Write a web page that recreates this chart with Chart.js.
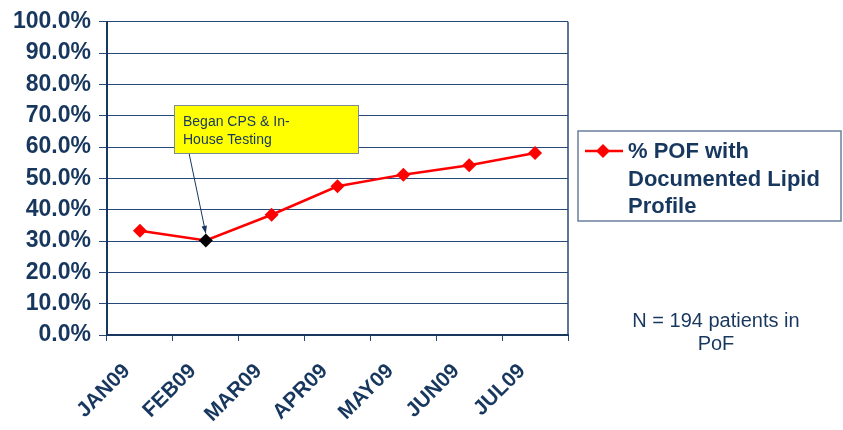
<!DOCTYPE html>
<html>
<head>
<meta charset="utf-8">
<script src="https://cdn.jsdelivr.net/npm/chart.js@4/dist/chart.umd.min.js"></script>
<style>
  html, body { margin: 0; padding: 0; background: #fff; }
  #wrap { width: 843px; height: 430px; position: relative; }
</style>
</head>
<body>
<div id="wrap"><canvas id="lipid-chart"></canvas></div>
<script>
const months = ['JAN09', 'FEB09', 'MAR09', 'APR09', 'MAY09', 'JUN09', 'JUL09'];
const pctDocumented = [33.3, 30.2, 38.4, 47.5, 51.2, 54.2, 58.1];
const seriesName = ['% POF with', 'Documented Lipid', 'Profile'];
const noteLines = ['N = 194 patients in', 'PoF'];
const calloutLines = ['Began CPS & In-', 'House Testing'];
const calloutMonth = 'FEB09';

const navy = '#17375E';
const gridNavy = '#27497A';
const font = '"Liberation Sans", Arial, sans-serif';

function drawDiamond(ctx, x, y, r, color) {
    ctx.beginPath();
    ctx.moveTo(x, y - r);
    ctx.lineTo(x + r, y);
    ctx.lineTo(x, y + r);
    ctx.lineTo(x - r, y);
    ctx.closePath();
    ctx.fillStyle = color;
    ctx.fill();
}

const extras = {
    id: 'extras',
    afterDraw(chart) {
        const ctx = chart.ctx;
        const area = chart.chartArea;
        const xs = chart.scales.x;
        const ys = chart.scales.y;
        ctx.save();

        // right border of plot
        ctx.strokeStyle = gridNavy;
        ctx.lineWidth = 1.5;
        ctx.beginPath();
        ctx.moveTo(area.right, area.top);
        ctx.lineTo(area.right, area.bottom);
        ctx.stroke();

        // callout box + arrow
        const idx = months.indexOf(calloutMonth);
        const px = xs.getPixelForValue(idx);
        const py = ys.getPixelForValue(pctDocumented[idx]) - 7;
        const bx = 174, by = 105, bw = 184, bh = 48;
        const sx = 189, sy = by + bh;
        ctx.strokeStyle = navy;
        ctx.lineWidth = 1;
        ctx.beginPath();
        ctx.moveTo(sx, sy);
        ctx.lineTo(px, py);
        ctx.stroke();
        const ang = Math.atan2(py - sy, px - sx);
        ctx.beginPath();
        ctx.moveTo(px, py);
        ctx.lineTo(px - 8 * Math.cos(ang - 0.35), py - 8 * Math.sin(ang - 0.35));
        ctx.lineTo(px - 8 * Math.cos(ang + 0.35), py - 8 * Math.sin(ang + 0.35));
        ctx.closePath();
        ctx.fillStyle = navy;
        ctx.fill();

        ctx.fillStyle = '#FFFF00';
        ctx.fillRect(bx, by, bw, bh);
        ctx.strokeStyle = '#7F8A99';
        ctx.lineWidth = 1;
        ctx.strokeRect(bx + 0.5, by + 0.5, bw, bh);
        ctx.fillStyle = navy;
        ctx.font = '14px ' + font;
        ctx.textBaseline = 'alphabetic';
        ctx.textAlign = 'left';
        calloutLines.forEach((t, i) => ctx.fillText(t, 183, 126 + i * 18));

        // legend
        ctx.strokeStyle = '#6A7F9C';
        ctx.lineWidth = 1.5;
        ctx.strokeRect(578, 131, 263, 90);
        ctx.strokeStyle = '#FF0000';
        ctx.lineWidth = 2.5;
        ctx.beginPath();
        ctx.moveTo(585, 151);
        ctx.lineTo(623, 151);
        ctx.stroke();
        drawDiamond(ctx, 603, 151, 7, '#FF0000');
        ctx.fillStyle = navy;
        ctx.font = 'bold 22px ' + font;
        seriesName.forEach((t, i) => ctx.fillText(t, 628, 158 + i * 27.5));

        // note
        ctx.font = '20px ' + font;
        ctx.textAlign = 'center';
        noteLines.forEach((t, i) => ctx.fillText(t, 716, 327 + i * 23));
        ctx.restore();
    }
};

new Chart(document.getElementById('lipid-chart'), {
    type: 'line',
    data: {
        labels: months,
        datasets: [{
            label: seriesName.join(' '),
            data: pctDocumented,
            borderColor: '#FF0000',
            borderWidth: 2.5,
            pointStyle: 'rectRot',
            pointRadius: 7,
            pointBorderWidth: 0,
            pointBackgroundColor: c => months[c.dataIndex] === calloutMonth ? '#000000' : '#FF0000',
            pointBorderColor: c => months[c.dataIndex] === calloutMonth ? '#000000' : '#FF0000',
            tension: 0
        }]
    },
    options: {
        responsive: true,
        maintainAspectRatio: false,
        animation: false,
        devicePixelRatio: 1,
        layout: { padding: { left: 0, top: 18, right: 275, bottom: 0 } },
        plugins: {
            legend: { display: false },
            tooltip: { enabled: false }
        },
        scales: {
            x: {
                offset: true,
                grid: {
                    offset: true,
                    drawOnChartArea: false,
                    drawTicks: true,
                    tickLength: 6,
                    color: gridNavy
                },
                border: { color: navy, width: 2 },
                ticks: {
                    minRotation: 45,
                    maxRotation: 45,
                    color: navy,
                    padding: 18,
                    labelOffset: -13,
                    font: { family: font, size: 21, weight: 'bold' }
                },
                afterFit(scale) { scale.height = 95; }
            },
            y: {
                min: 0,
                max: 100,
                ticks: {
                    stepSize: 10,
                    color: navy,
                    padding: 8,
                    font: { family: font, size: 23, weight: 'bold' },
                    callback: v => v.toFixed(1) + '%'
                },
                grid: {
                    color: gridNavy,
                    lineWidth: 1,
                    tickLength: 8
                },
                border: { color: navy, width: 2 },
                afterFit(scale) { scale.width = 107; }
            }
        }
    },
    plugins: [extras]
});
</script>
</body>
</html>
